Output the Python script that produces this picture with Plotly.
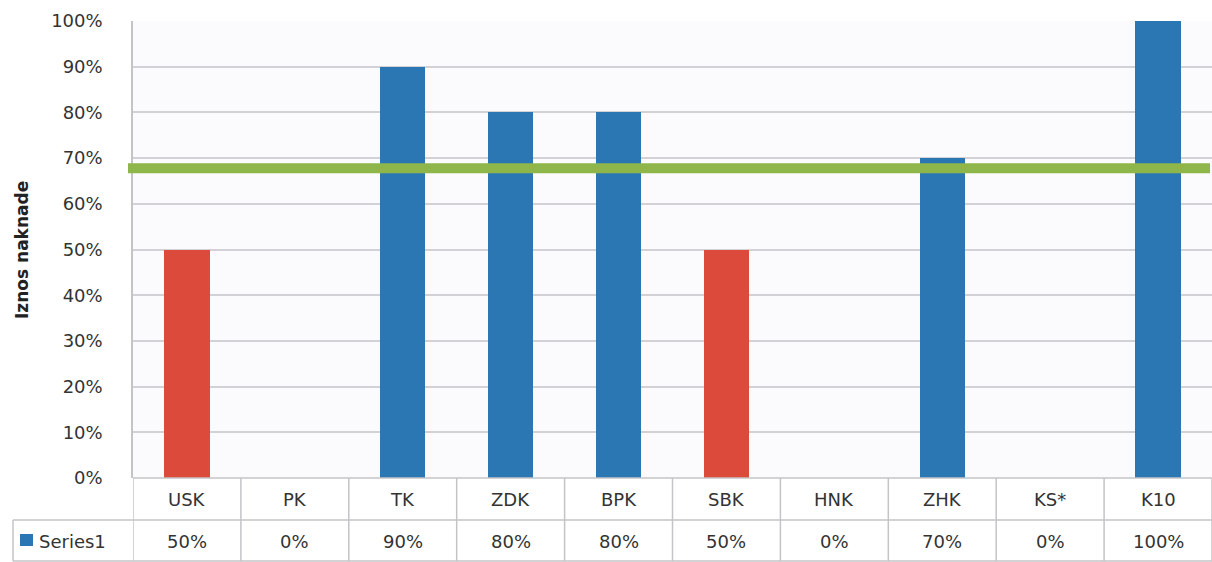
import plotly.graph_objects as go

# ---- data ----
categories = ["USK", "PK", "TK", "ZDK", "BPK", "SBK", "HNK", "ZHK", "KS*", "K10"]
values = [0.50, 0.00, 0.90, 0.80, 0.80, 0.50, 0.00, 0.70, 0.00, 1.00]
table_labels = ["50%", "0%", "90%", "80%", "80%", "50%", "0%", "70%", "0%", "100%"]
highlighted = ["USK", "SBK"]
reference_level = 0.678
series_name = "Series1"
y_tick_vals = [0, 0.1, 0.2, 0.3, 0.4, 0.5, 0.6, 0.7, 0.8, 0.9, 1.0]
y_tick_text = ["0%", "10%", "20%", "30%", "40%", "50%", "60%", "70%", "80%", "90%", "100%"]
y_title = "Iznos naknade"

# ---- style ----
BLUE = "#2B77B3"
RED = "#DC4A3B"
GREEN = "#8FB64B"
GRID = "#D2D2D6"
TABLE = "#C4C4C8"
TEXT = "#333333"
FONT = "DejaVu Sans"

W, H = 1212, 562
ML, MR, MT, MB = 133, 0, 21, 84
PW, PH = W - ML - MR, H - MT - MB


def px_x(px):
    return (px - ML) / PW


def px_y(py):
    return (H - MB - py) / PH


bar_colors = [RED if c in highlighted else BLUE for c in categories]
xs = list(range(len(categories)))

fig = go.Figure()
fig.add_trace(go.Bar(
    x=xs, y=values, marker=dict(color=bar_colors, line=dict(width=0)),
    width=0.42, name=series_name, showlegend=False, hoverinfo="skip",
))

shapes = []
# reference line
shapes.append(dict(type="line", xref="paper", yref="y", x0=px_x(128), x1=px_x(1210),
                   y0=reference_level, y1=reference_level,
                   line=dict(color=GREEN, width=10), layer="above"))

# table lines
row_mid = px_y(520)
bottom = px_y(561)
left_box = px_x(13)
shapes.append(dict(type="line", xref="paper", yref="paper", x0=0, x1=1, y0=0, y1=0,
                   line=dict(color=TABLE, width=1.5)))
shapes.append(dict(type="line", xref="paper", yref="paper", x0=left_box, x1=1, y0=row_mid, y1=row_mid,
                   line=dict(color=TABLE, width=1.5)))
shapes.append(dict(type="line", xref="paper", yref="paper", x0=left_box, x1=1, y0=bottom, y1=bottom,
                   line=dict(color=TABLE, width=1.5)))
shapes.append(dict(type="line", xref="paper", yref="paper", x0=left_box, x1=left_box, y0=row_mid, y1=bottom,
                   line=dict(color=TABLE, width=1.5)))
for i in range(len(categories) + 1):
    shapes.append(dict(type="line", xref="x", yref="paper", x0=i - 0.5, x1=i - 0.5, y0=0, y1=bottom,
                       line=dict(color=TABLE, width=1.5)))
# legend key
shapes.append(dict(type="rect", xref="paper", yref="paper", x0=px_x(20), x1=px_x(33),
                   y0=px_y(546), y1=px_y(534), fillcolor=BLUE, line=dict(width=0)))

annotations = []
for i, (c, t) in enumerate(zip(categories, table_labels)):
    annotations.append(dict(x=i, y=px_y(499), xref="x", yref="paper", text=c, showarrow=False,
                            font=dict(family=FONT, size=18, color=TEXT), xanchor="center", yanchor="middle"))
    annotations.append(dict(x=i, y=px_y(541), xref="x", yref="paper", text=t, showarrow=False,
                            font=dict(family=FONT, size=18, color=TEXT), xanchor="center", yanchor="middle"))
annotations.append(dict(x=px_x(37), y=px_y(541), xref="paper", yref="paper", text=series_name,
                        showarrow=False, font=dict(family=FONT, size=18, color=TEXT),
                        xanchor="left", yanchor="middle"))
annotations.append(dict(x=px_x(22), y=px_y(250), xref="paper", yref="paper", text="<b>" + y_title + "</b>",
                        showarrow=False, textangle=-90, font=dict(family=FONT, size=17, color="#222222"),
                        xanchor="center", yanchor="middle"))

fig.update_layout(
    width=W, height=H,
    margin=dict(l=ML, r=MR, t=MT, b=MB),
    paper_bgcolor="white", plot_bgcolor="#FBFBFE",
    xaxis=dict(range=[-0.5, len(categories) - 0.5], showticklabels=False, showgrid=False,
               zeroline=False, showline=False, fixedrange=True),
    yaxis=dict(range=[0, 1], tickvals=y_tick_vals, ticktext=y_tick_text, showgrid=True,
               gridcolor=GRID, gridwidth=1.5, zeroline=False, showline=True, linecolor=TABLE, linewidth=1.5,
               ticks="", ticklabelstandoff=25,
               tickfont=dict(family=FONT, size=18, color=TEXT), fixedrange=True),
    shapes=shapes, annotations=annotations,
    bargap=0, showlegend=False,
)

fig.write_html("out.html")
